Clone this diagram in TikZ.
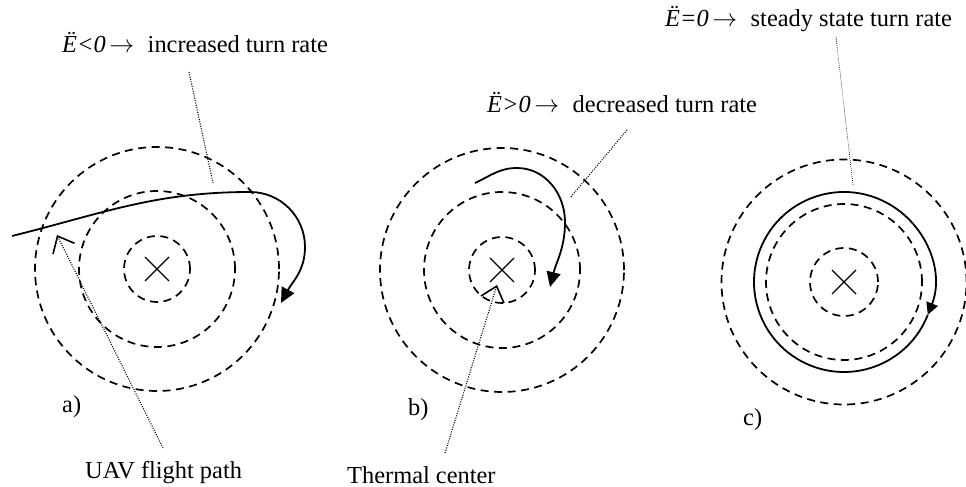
\documentclass[tikz,border=0pt]{standalone}
\usepackage{fontspec}
\setmainfont{Liberation Serif}
\usetikzlibrary{arrows.meta}
\newcommand{\myarr}{\hspace{0.15em}\ensuremath{\rightarrow}\hspace{0.55em}}
\begin{document}
\begin{tikzpicture}[x=1pt,y=1pt,
  dcirc/.style={circle,draw,line width=1.7pt,dash pattern=on 8pt off 5.5pt,inner sep=0pt,outer sep=0pt},
  flight/.style={line width=1.8pt},
  ptr/.style={line width=1.1pt,dash pattern=on 1pt off 1.4pt},
  ptrthin/.style={line width=0.6pt,dash pattern=on 0.8pt off 1.2pt},
  openhead/.style={-{Straight Barb[length=14pt,width=24pt,line width=1.6pt]}},
  lbl/.style={font=\fontsize{24.4}{29}\selectfont,inner sep=0pt,anchor=base west},
  crossline/.style={line width=1.2pt}]
\useasboundingbox (0,0) rectangle (966,487);

% ---------- panel a ----------
\node[dcirc,minimum size=66pt]  (a1) at (157,218) {};
\node[dcirc,minimum size=156pt] (a2) at (157,218) {};
\node[dcirc,minimum size=244pt] (a3) at (157,218) {};
\draw[crossline] ([shift={(-12,-12)}]a1.center) -- ([shift={(12,12)}]a1.center);
\draw[crossline] ([shift={(-12,12)}]a1.center) -- ([shift={(12,-12)}]a1.center);

\coordinate (pa0) at (12,251);
\coordinate (pa1) at (250,295);
\coordinate (pa2) at (305,240);
\coordinate (pa3) at (281,184);
\draw[flight,-{Triangle[length=15pt,width=14pt]}]
  (pa0) to[out=14,in=180] (pa1) to[out=0,in=90] (pa2) to[out=-90,in=62] (pa3);

\node[lbl] (ta) at (62,434) {\textit{Ë<0}\myarr increased turn rate};
\coordinate (ta1) at (213,304);
\draw[ptr] (189,415) coordinate (ta0) -- (ta1);

\node[lbl] (uav) at (85,9) {UAV flight path};
\coordinate (uavtip) at (57,252);
\draw[ptr,openhead] (163,39) coordinate (uav0) -- (uavtip);

\node[lbl] (la) at (62,74) {a)};

% ---------- panel b ----------
\node[dcirc,minimum size=66pt]  (b1) at (502,217) {};
\node[dcirc,minimum size=156pt] (b2) at (502,217) {};
\node[dcirc,minimum size=244pt] (b3) at (502,217) {};
\draw[crossline] ([shift={(-12,-12)}]b1.center) -- ([shift={(12,12)}]b1.center);
\draw[crossline] ([shift={(-12,12)}]b1.center) -- ([shift={(12,-12)}]b1.center);

\coordinate (pb0) at (475,304);
\coordinate (pb1) at (517,319);
\coordinate (pb2) at (565,265);
\coordinate (pb3) at (550,200);
\draw[flight,-{Triangle[length=15pt,width=14pt]}]
  (pb0) to[out=25,in=180] (pb1) to[out=0,in=90] (pb2) to[out=-90,in=76] (pb3);

\node[lbl] (tb) at (487,374) {\textit{Ë>0}\myarr decreased turn rate};
\coordinate (tb1) at (570,289);
\draw[ptr] (627,357) coordinate (tb0) -- (tb1);

\node[lbl] (tc) at (347,4) {Thermal center};
\coordinate (tctip) at (497,202);
\draw[ptr,openhead] (445,34) coordinate (tc0) -- (tctip);

\node[lbl] (lb) at (408,71) {b)};

% ---------- panel c ----------
\node[dcirc,minimum size=68pt]  (c1) at (844,205) {};
\node[dcirc,minimum size=156pt] (c2) at (844,205) {};
\node[dcirc,minimum size=245pt] (c3) at (844,205) {};
\draw[crossline] ([shift={(-12,-12)}]c1.center) -- ([shift={(12,12)}]c1.center);
\draw[crossline] ([shift={(-12,12)}]c1.center) -- ([shift={(12,-12)}]c1.center);

\draw[flight,-{Triangle[length=12pt,width=12pt]}]
  ([shift={(338.6:90)}]c1.center) arc[start angle=338.6,end angle=-21.4,radius=90];

\node[lbl] (tcc) at (665,460) {\textit{Ë=0}\myarr steady state turn rate};
\coordinate (tcc1) at (853,302);
\draw[ptrthin] (836,450) coordinate (tcc0) -- (tcc1);

\node[lbl] (lc) at (743,61) {c)};
\end{tikzpicture}
\end{document}
